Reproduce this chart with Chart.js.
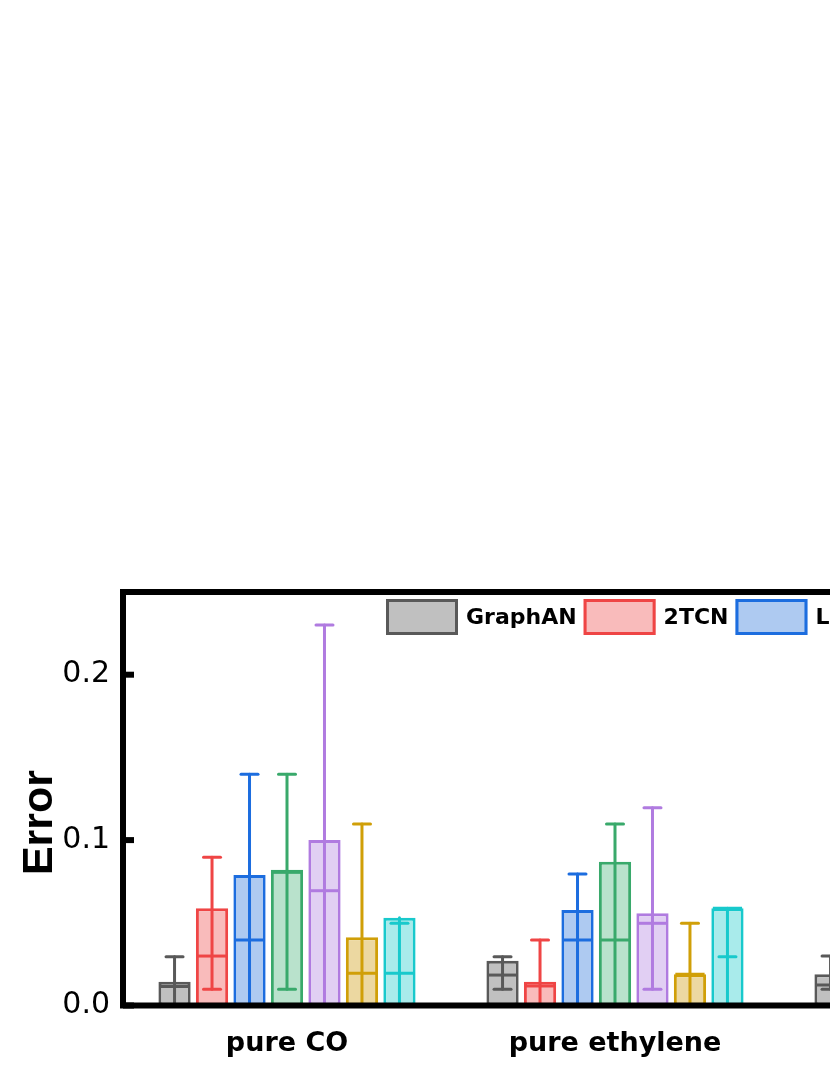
<!DOCTYPE html>
<html>
<head>
<meta charset="utf-8">
<script src="https://cdn.jsdelivr.net/npm/chart.js@4.4.1/dist/chart.umd.min.js"></script>
<style>
html, body { margin:0; padding:0; background:#fff; width:830px; height:1075px; overflow:hidden; }
canvas { position:absolute; left:0; top:0; }
</style>
</head>
<body>
<canvas id="c" width="1130" height="1075"></canvas>
<script>
// ---- data ----
const categories = ['pure CO', 'pure ethylene', 'mixture'];
const seriesNames = ['GraphAN', '2TCN', 'LSTM', 'GRU', 'TCN', 'CNN', 'MLP'];
const yTickValues = [0, 0.1, 0.2];
// bar height (mean) per series, per category
const means = [
  [0.0144, 0.0271, 0.0189],
  [0.0588, 0.0144, null],
  [0.0789, 0.0577, null],
  [0.0821, 0.0869, null],
  [0.1001, 0.0557, null],
  [0.0412, 0.0189, null],
  [0.0531, 0.0588, null]
];
// inner full-width line
const medians = [
  [0.0115, 0.0184, 0.0124],
  [0.0299, 0.0118, null],
  [0.0396, 0.0396, null],
  [0.0805, 0.0396, null],
  [0.0694, 0.0497, null],
  [0.0195, 0.0189, null],
  [0.0195, 0.0588, null]
];
// whisker caps
const highs = [
  [0.0295, 0.0295, 0.0300],
  [0.0896, 0.0396, null],
  [0.1398, 0.0795, null],
  [0.1398, 0.1097, null],
  [0.2300, 0.1196, null],
  [0.1097, 0.0497, null],
  [0.0497, 0.0295, null]
];
const lows = [
  [0, 0.0098, 0.0098],
  [0.0098, 0, null],
  [0, 0, null],
  [0.0098, 0, null],
  [0, 0.0098, null],
  [0, 0, null],
  [0, 0, null]
];

// ---- styles ----
const borderColors = ['#595959', '#ef4545', '#1c6ddf', '#39a96b', '#b07be0', '#d09f08', '#18c9cc'];
const fillColors   = ['#c0c0c0', '#f9bbbb', '#aecaf1', '#b9e2cc', '#e1cff3', '#ecd8a1', '#a9ebeb'];
const FONT = "'DejaVu Sans'";

const extrasPlugin = {
  id: 'extras',
  afterDatasetsDraw(chart) {
    const ctx = chart.ctx;
    const ys = chart.scales.y;
    chart.data.datasets.forEach((ds, i) => {
      const meta = chart.getDatasetMeta(i);
      meta.data.forEach((bar, j) => {
        const m = means[i][j];
        if (m === null || m === undefined) return;
        const x = bar.x, w = bar.width;
        const hi = highs[i][j], lo = lows[i][j], md = medians[i][j];
        ctx.save();
        ctx.strokeStyle = borderColors[i];
        ctx.lineWidth = 3;
        ctx.lineCap = 'round';
        ctx.beginPath();
        ctx.moveTo(x, ys.getPixelForValue(Math.max(hi, m)));
        ctx.lineTo(x, ys.getPixelForValue(lo));
        ctx.stroke();
        [hi, lo].forEach(v => {
          const py = ys.getPixelForValue(v);
          ctx.beginPath();
          ctx.moveTo(x - 8.5, py);
          ctx.lineTo(x + 8.5, py);
          ctx.stroke();
        });
        ctx.lineCap = 'butt';
        const pm = ys.getPixelForValue(md);
        ctx.beginPath();
        ctx.moveTo(x - w / 2 + 1.5, pm);
        ctx.lineTo(x + w / 2 - 1.5, pm);
        ctx.stroke();
        ctx.restore();
      });
    });
  },
  afterDraw(chart) {
    const ctx = chart.ctx;
    const a = chart.chartArea;
    const ys = chart.scales.y;
    ctx.save();
    // frame
    ctx.strokeStyle = '#000';
    ctx.lineWidth = 6;
    ctx.strokeRect(a.left, a.top, a.right - a.left, a.bottom - a.top);
    // inward ticks
    ctx.fillStyle = '#000';
    yTickValues.forEach(v => {
      const py = ys.getPixelForValue(v);
      ctx.fillRect(a.left, py - 3, 11, 6);
    });
    // legend
    ctx.font = "bold 22px " + FONT;
    ctx.textBaseline = 'middle';
    ctx.textAlign = 'left';
    let lx = 386;
    const ly = 599, bw = 72, bh = 36;
    seriesNames.forEach((name, i) => {
      ctx.fillStyle = fillColors[i];
      ctx.fillRect(lx, ly, bw, bh);
      ctx.strokeStyle = borderColors[i];
      ctx.lineWidth = 3;
      ctx.strokeRect(lx + 1.5, ly + 1.5, bw - 3, bh - 3);
      const tx = lx + bw + 8;
      ctx.fillStyle = '#000';
      ctx.fillText(name, tx, ly + bh / 2 + 1);
      lx = tx + ctx.measureText(name).width + 7;
    });
    // y title
    ctx.translate(51.5, 822.5);
    ctx.rotate(-Math.PI / 2);
    ctx.font = "bold 43px 'Liberation Sans'";
    ctx.textAlign = 'center';
    ctx.textBaseline = 'alphabetic';
    ctx.fillStyle = '#000';
    ctx.fillText('Error', 0, 0);
    ctx.restore();
  }
};

const datasets = seriesNames.map((name, i) => ({
  label: name,
  data: means[i],
  backgroundColor: fillColors[i],
  borderColor: borderColors[i],
  borderWidth: 3,
  borderSkipped: false,
  categoryPercentage: 0.8,
  barPercentage: 0.86
}));

Chart.defaults.font.family = FONT;
new Chart(document.getElementById('c'), {
  type: 'bar',
  data: { labels: categories, datasets },
  options: {
    responsive: false,
    animation: false,
    events: [],
    layout: { padding: { left: 0, top: 592, right: 23, bottom: 0 } },
    plugins: { legend: { display: false }, tooltip: { enabled: false } },
    scales: {
      x: {
        type: 'category',
        grid: { display: false, drawTicks: false },
        border: { display: false },
        ticks: { color: '#000', font: { size: 27, weight: 'bold', family: FONT }, padding: 22, maxRotation: 0 },
        afterFit(s) { s.height = 69.5; }
      },
      y: {
        min: 0, max: 0.25,
        grid: { display: false, drawTicks: false },
        border: { display: false },
        ticks: { color: '#000', font: { size: 30, family: FONT }, padding: 13, callback: v => Number(v).toFixed(1) },
        afterBuildTicks(s) { s.ticks = yTickValues.map(v => ({ value: v })); },
        afterFit(s) { s.width = 123; }
      }
    }
  },
  plugins: [extrasPlugin]
});
</script>
</body>
</html>
